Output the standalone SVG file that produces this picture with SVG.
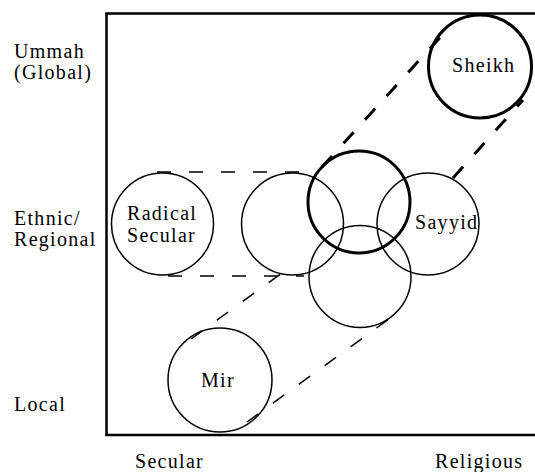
<svg xmlns="http://www.w3.org/2000/svg" width="535" height="472" viewBox="0 0 535 472">
<style>
text{font-family:"Liberation Serif","Times New Roman",serif;font-size:20px;letter-spacing:1.3px;fill:#000}
.c{fill:none;stroke:#000;stroke-width:1.5}
.ct{fill:none;stroke:#000;stroke-width:3}
.d{stroke:#000;stroke-width:1.5;stroke-dasharray:14 18;fill:none}
.dt{stroke:#000;stroke-width:3;stroke-dasharray:15 17;fill:none}
.ax{stroke:#000;stroke-width:2.5;fill:none}
</style>
<rect width="535" height="472" fill="#fff"/>
<g id="axes">
<path class="ax" d="M535 13.5 H106.5 V435 H535"/>
<text x="14" y="58">Ummah</text>
<text x="14" y="79">(Global)</text>
<text x="14" y="225">Ethnic/</text>
<text x="14" y="246">Regional</text>
<text x="14" y="411">Local</text>
<text x="135" y="468">Secular</text>
<text x="435" y="468">Religious</text>
</g>
<g id="connectors">
<line class="d" x1="157" y1="172" x2="302" y2="172"/>
<line class="d" x1="168" y1="276" x2="304" y2="276"/>
<line class="d" x1="191" y1="339" x2="282" y2="273"/>
<line class="d" x1="247" y1="422" x2="393" y2="316"/>
<line class="dt" x1="322" y1="167" x2="445" y2="32"/>
<line class="dt" x1="453" y1="178" x2="523" y2="100"/>
</g>
<g id="radical-secular">
<circle class="c" cx="162.5" cy="224" r="51"/>
<text x="127" y="220">Radical</text>
<text x="127" y="242">Secular</text>
</g>
<g id="circle-2">
<circle class="c" cx="292.5" cy="224" r="51"/>
</g>
<g id="sayyid">
<circle class="c" cx="428" cy="224" r="51"/>
<text x="415" y="229">Sayyid</text>
</g>
<g id="circle-lower">
<circle class="c" cx="360" cy="276.5" r="51"/>
</g>
<g id="circle-thick">
<circle class="ct" cx="359" cy="202" r="51"/>
</g>
<g id="sheikh">
<circle class="ct" cx="480" cy="66.5" r="51.5"/>
<text x="452" y="72">Sheikh</text>
</g>
<g id="mir">
<circle class="c" cx="220" cy="380" r="52"/>
<text x="201" y="387">Mir</text>
</g>
</svg>
